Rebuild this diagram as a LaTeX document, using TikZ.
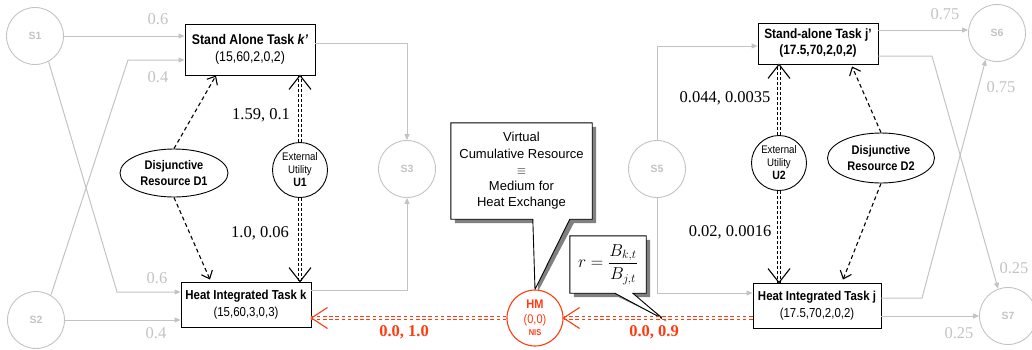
\documentclass[tikz,border=0pt]{standalone}
\usepackage{fontspec}
\setmainfont{Liberation Serif}
\setsansfont{Liberation Sans}
\newfontfamily\nsf{Liberation Sans}[FakeStretch=0.88]
\usetikzlibrary{arrows.meta,shapes.geometric,calc,backgrounds}
\definecolor{lg}{HTML}{C3C3C3}
\definecolor{hr}{HTML}{FF3B10}
\definecolor{shd}{HTML}{808080}
\begin{document}
\begin{tikzpicture}[x=1pt,y=-1pt,
 task/.style={draw,line width=0.9pt,fill=white,inner sep=1pt,align=center,font=\nsf\fontsize{13}{16.5}\selectfont},
 snode/.style={circle,draw=lg,line width=0.9pt,minimum size=57pt,inner sep=0pt,text=lg,font=\sffamily\bfseries\fontsize{10.5}{12}\selectfont},
 dres/.style={ellipse,draw,line width=0.9pt,inner sep=0pt,align=center,font=\nsf\bfseries\fontsize{12.5}{16}\selectfont},
 util/.style={circle,draw,line width=0.9pt,minimum size=55pt,inner sep=0pt,align=center,font=\nsf\fontsize{11}{13}\selectfont},
 flow/.style={draw=lg,line width=1pt,-{Triangle[length=6pt,width=5pt]}},
 glabel/.style={text=lg,font=\fontsize{16.5}{18}\selectfont,inner sep=0pt},
 blabel/.style={font=\fontsize{16.5}{18}\selectfont,inner sep=0pt},
 rlabel/.style={text=hr,font=\bfseries\fontsize{16.5}{18}\selectfont,inner sep=0pt},
 dresarrow/.style={line width=1.1pt,dash pattern=on 4pt off 3pt,-{Straight Barb[length=7pt,width=12pt,line width=1.1pt]}},
 udbl/.style={line width=1.5pt,double=white,double distance=1.6pt,dash pattern=on 2.6pt off 2.4pt},
 rdbl/.style={draw=hr,line width=1.3pt,double=white,double distance=1.6pt,dash pattern=on 3.6pt off 2.6pt},
 vtip/.style={line width=1.1pt,line join=miter},
 callout/.style={fill=white,draw=black,line width=0.9pt},
]
\useasboundingbox (0,0) rectangle (1032,349);

% state nodes
\node[snode] (S1) at (35,36) {S1};
\node[snode] (S2) at (36,320) {S2};
\node[snode] (S3) at (407,169) {S3};
\node[snode] (S5) at (657,169) {S5};
\node[snode] (S6) at (997,33) {S6};
\node[snode] (S7) at (1008,316) {S7};

% tasks
\node[task,minimum width=130pt,minimum height=51pt,font=\nsf\fontsize{14}{17}\selectfont] (kp) at (250,49.5) {{\bfseries Stand Alone Task \textit{k’}}\\(15,60,2,0,2)};
\node[task,minimum width=130pt,minimum height=45pt] (hk) at (246,304.5) {{\bfseries Heat Integrated Task k}\\(15,60,3,0,3)};
\node[task,minimum width=120pt,minimum height=41pt,font=\nsf\bfseries\fontsize{13.5}{16}\selectfont] (jp) at (818,43.5) {Stand-alone Task j’\\(17.5,70,2,0,2)};
\node[task,minimum width=128pt,minimum height=45pt] (hj) at (817,305.5) {{\bfseries Heat Integrated Task j}\\(17.5,70,2,0,2)};

% resources
\node[dres,minimum width=108pt,minimum height=48pt] (D1) at (174,173) {Disjunctive\\Resource D1};
\node[dres,minimum width=107pt,minimum height=50pt] (D2) at (881,158) {Disjunctive\\Resource D2};
\node[util] (U1) at (300,170) {External\\Utility\\{\bfseries\fontsize{12}{13}\selectfont U1}};
\node[util] (U2) at (779,163) {External\\Utility\\{\bfseries\fontsize{12}{13}\selectfont U2}};

\node[circle,draw=hr,fill=white,line width=1.1pt,minimum size=56pt,inner sep=0pt,text=hr,align=center,font=\nsf\fontsize{12.5}{14}\selectfont] (HM) at (535,318) {{\bfseries HM}\\[1pt](0,0)\\[-2pt]{\bfseries\fontsize{8.5}{10}\selectfont NIS}};

% callout texts
\node[align=center,font=\sffamily\fontsize{13}{16.3}\selectfont,minimum width=141pt,minimum height=96pt,inner sep=0pt] (cb) at (521.5,171) {Virtual\\Cumulative Resource\\$\equiv$\\Medium for\\Heat Exchange};
\node[minimum width=76pt,minimum height=57pt,inner sep=0pt,font=\fontsize{17}{20}\selectfont] (fb) at (608,264.5) {$r=\displaystyle\frac{B_{k,t}}{B_{j,t}}$};
\coordinate (ftip) at (663,319);

\begin{scope}[on background layer]
 \fill[shd] ($(cb.north west)+(4,4)$) -- ($(cb.north east)+(4,4)$) -- ($(cb.south east)+(4,4)$) -- ($(cb.south west)+(123,4)$) -- ($(HM.north)+(3,2)$) -- ($(cb.south west)+(86,4)$) -- ($(cb.south west)+(4,4)$) -- cycle;
 \path[callout] (cb.north west) -- (cb.north east) -- (cb.south east) -- ($(cb.south west)+(119,0)$) -- (HM.north) -- ($(cb.south west)+(82,0)$) -- (cb.south west) -- cycle;
 \fill[shd] ($(fb.north west)+(4,4)$) -- ($(fb.north east)+(4,4)$) -- ($(fb.south east)+(4,4)$) -- ($(fb.south west)+(67,4)$) -- ($(ftip)+(3,1)$) -- ($(fb.south west)+(49,4)$) -- ($(fb.south west)+(4,4)$) -- cycle;
 \path[callout] (fb.north west) -- (fb.north east) -- (fb.south east) -- ($(fb.south west)+(63,0)$) -- (ftip) -- ($(fb.south west)+(45,0)$) -- (fb.south west) -- cycle;
\end{scope}

% material flows
\coordinate (b1) at (128,60);
\coordinate (b2) at (117,292);
\coordinate (c1) at (407,43);
\coordinate (c2) at (407,290);
\coordinate (c3) at (657,46);
\coordinate (c4) at (657,293);
\coordinate (c5) at (930,30);
\coordinate (c6) at (932,56);
\coordinate (c7) at (922,298);
\draw[flow] (S1.east) -- (S1.east -| kp.west);
\draw[flow] (S2.59) -- (b1) -- (b1 -| kp.west);
\draw[flow] (S1.-62) -- (b2) -- (b2 -| hk.west);
\draw[flow] (S2.east) -- (S2.east -| hk.west);
\draw[flow] (c1 -| kp.east) -- (c1) -- (S3.north);
\draw[flow] (c2 -| hk.east) -- (c2) -- (S3.south);
\draw[flow] (S5.north) -- (c3) -- (c3 -| jp.west);
\draw[flow] (S5.south) -- (c4) -- (c4 -| hj.west);
\draw[flow] (c5 -| jp.east) -- (c5 -| S6.west);
\draw[flow] (c6 -| jp.east) -- (c6) -- (S7.110);
\draw[flow] (c7 -| hj.east) -- (c7) -- (S6.247);
\draw[flow] (hj.east |- S7.west) -- (S7.west);

% disjunctive resource links
\draw[dresarrow] (D1.north) -- ($(kp.south)+(-34,0)$);
\draw[dresarrow] (D1.south) -- ($(hk.north)+(-36,-2)$);
\draw[dresarrow] (D2.north) -- ($(jp.south)+(34,2)$);
\draw[dresarrow] (D2.south) -- ($(hj.north)+(26,-3)$);

% utility links
\draw[udbl] (U1.north) -- (U1.north |- kp.south);
\draw[udbl] (U1.south) -- (U1.south |- hk.north);
\draw[udbl] (U2.north) -- (U2.north |- jp.south);
\draw[udbl] (U2.south) -- (U2.south |- hj.north);
\draw[vtip] ($(U1.north |- kp.south)+(-11,14)$) -- (U1.north |- kp.south) -- ++(11,14);
\draw[vtip] ($(U1.south |- hk.north)+(-11,-14)$) -- (U1.south |- hk.north) -- ++(11,-14);
\draw[vtip] ($(U2.north |- jp.south)+(-11,14)$) -- (U2.north |- jp.south) -- ++(11,14);
\draw[vtip] ($(U2.south |- hj.north)+(-11,-14)$) -- (U2.south |- hj.north) -- ++(11,-14);

% heat medium links
\draw[rdbl] (HM.west) -- (HM.west -| hk.east);
\draw[rdbl] (hj.west |- HM.east) -- (HM.east);
\draw[hr,vtip] ($(HM.west -| hk.east)+(16,-10.5)$) -- (HM.west -| hk.east) -- ++(16,10.5);
\draw[hr,vtip] ($(HM.east)+(16,-10.5)$) -- (HM.east) -- ++(16,10.5);

% labels
\node[glabel] (g1) at (158,19) {0.6};
\node[glabel] (g2) at (158,77) {0.4};
\node[glabel] (g3) at (157,278) {0.6};
\node[glabel] (g4) at (156,333) {0.4};
\node[glabel] (g5) at (945,14) {0.75};
\node[glabel] (g6) at (1001,87) {0.75};
\node[glabel] (g7) at (1014,268) {0.25};
\node[glabel] (g8) at (959,333) {0.25};
\node[blabel] (l1) at (261,115) {1.59, 0.1};
\node[blabel] (l2) at (260,233) {1.0, 0.06};
\node[blabel] (l3) at (725,98) {0.044, 0.0035};
\node[blabel] (l4) at (730,232) {0.02, 0.0016};
\node[rlabel] (r1) at (404,332) {0.0, 1.0};
\node[rlabel] (r2) at (654,332) {0.0, 0.9};
\end{tikzpicture}
\end{document}
